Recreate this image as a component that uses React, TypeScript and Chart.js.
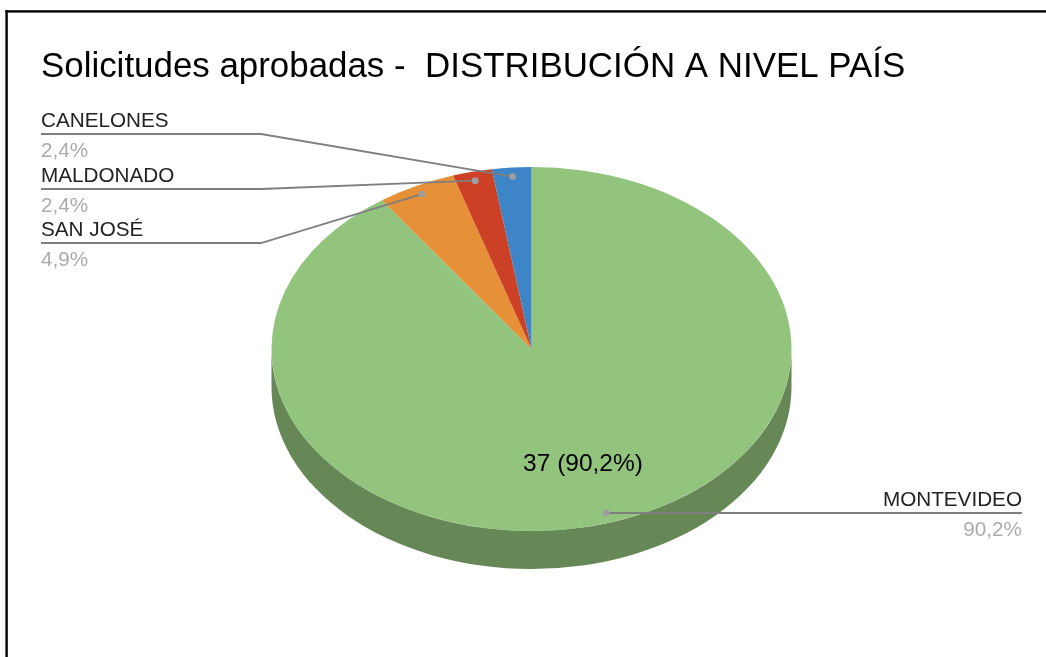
import React, { useEffect, useRef } from "react";
import { Chart, registerables } from "chart.js";

Chart.register(...registerables);

const categories = ["MONTEVIDEO", "SAN JOSÉ", "MALDONADO", "CANELONES"];
const seriesValues = [37, 2, 1, 1];
const percentLabels = ["90,2%", "4,9%", "2,4%", "2,4%"];
const sliceColors = ["#93C47D", "#E69138", "#CC4125", "#3D85C6"];
const sideColors = ["#668756", "#A06527", "#8E2D19", "#2A5D8A"];
const titleText = "Solicitudes aprobadas -  DISTRIBUCIÓN A NIVEL PAÍS";
const insideLabel = "37 (90,2%)";

const FONT = '"Liberation Sans", Arial, sans-serif';
const SQUASH = 0.7;
const DEPTH = 38;
const LEADER_R = 0.95;

// label block placement for each category: [text x, underline y, elbow x, text align]
const calloutLayout: [number, number, number, CanvasTextAlign][] = [
  [1022, 513, 1022, "right"],
  [41, 243, 261, "left"],
  [41, 189, 261, "left"],
  [41, 134, 261, "left"],
];

const pie3d = {
  id: "pie3d",
  beforeDatasetsDraw(chart: any) {
    const ctx = chart.ctx;
    // frame
    ctx.save();
    ctx.fillStyle = "#000000";
    ctx.fillRect(5.4, 10.2, 1046, 2.4);
    ctx.fillRect(5.4, 10.2, 2.4, 657);
    // title
    ctx.font = `34.9px ${FONT}`;
    ctx.textAlign = "left";
    ctx.textBaseline = "alphabetic";
    ctx.fillText(titleText, 41, 77);
    ctx.restore();

    const arcs = chart.getDatasetMeta(0).data;
    const { x: cx, y: cy } = arcs[0];
    // extruded side wall: visible only on the front half of the ellipse
    arcs.forEach((a: any, i: number) => {
      const rx = a.outerRadius;
      const ry = rx * SQUASH;
      for (const k of [0, 2 * Math.PI]) {
        const s = Math.max(a.startAngle - k, 0);
        const e = Math.min(a.endAngle - k, Math.PI);
        if (e <= s) continue;
        ctx.beginPath();
        ctx.ellipse(cx, cy + DEPTH, rx, ry, 0, s, e);
        ctx.ellipse(cx, cy, rx, ry, 0, e, s, true);
        ctx.closePath();
        ctx.fillStyle = sideColors[i];
        ctx.fill();
      }
    });
    // squash the library's own arcs into the tilted ellipse
    ctx.save();
    ctx.translate(cx, cy);
    ctx.scale(1, SQUASH);
    ctx.translate(-cx, -cy);
  },
  afterDatasetsDraw(chart: any) {
    const ctx = chart.ctx;
    ctx.restore();
    const arcs = chart.getDatasetMeta(0).data;
    const { x: cx, y: cy } = arcs[0];

    ctx.save();
    // inside label of the largest slice
    ctx.fillStyle = "#000000";
    ctx.font = `24.5px ${FONT}`;
    ctx.textAlign = "center";
    ctx.textBaseline = "middle";
    ctx.fillText(insideLabel, 583, 464);

    arcs.forEach((a: any, i: number) => {
      const [tx, ly, ex, align] = calloutLayout[i];
      const mid = (a.startAngle + a.endAngle) / 2;
      const r = a.outerRadius * LEADER_R;
      const px = cx + Math.cos(mid) * r;
      const py = cy + Math.sin(mid) * r * SQUASH;
      ctx.strokeStyle = "#7F7F7F";
      ctx.lineWidth = 1.8;
      ctx.beginPath();
      ctx.moveTo(tx, ly);
      if (align === "left") ctx.lineTo(ex, ly);
      ctx.lineTo(px, align === "left" ? py : ly);
      ctx.stroke();
      ctx.fillStyle = "#9E9E9E";
      ctx.beginPath();
      ctx.arc(px, align === "left" ? py : ly, 3.4, 0, Math.PI * 2);
      ctx.fill();

      ctx.textAlign = align;
      ctx.textBaseline = "alphabetic";
      ctx.font = `20.7px ${FONT}`;
      ctx.fillStyle = "#222222";
      ctx.fillText(categories[i], tx, ly - 7);
      ctx.fillStyle = "#ABABAB";
      ctx.fillText(percentLabels[i], tx, ly + 23);
    });
    ctx.restore();
  },
};

export default function App() {
  const ref = useRef<HTMLCanvasElement>(null);
  useEffect(() => {
    document.body.style.margin = "0";
    const chart = new Chart(ref.current as HTMLCanvasElement, {
      type: "pie",
      data: {
        labels: categories,
        datasets: [
          {
            data: seriesValues,
            backgroundColor: sliceColors,
            borderWidth: 0,
          },
        ],
      },
      options: {
        responsive: false,
        animation: false,
        layout: { padding: { left: 271.5, right: 254.5, top: 89, bottom: 48 } },
        plugins: {
          legend: { display: false },
          tooltip: { enabled: false },
          title: { display: false },
        },
      },
      plugins: [pie3d],
    } as any);
    return () => chart.destroy();
  }, []);
  return (
    <div style={{ width: 1046, height: 657, overflow: "hidden" }}>
      <canvas ref={ref} width={1046} height={657} style={{ display: "block" }} />
    </div>
  );
}
